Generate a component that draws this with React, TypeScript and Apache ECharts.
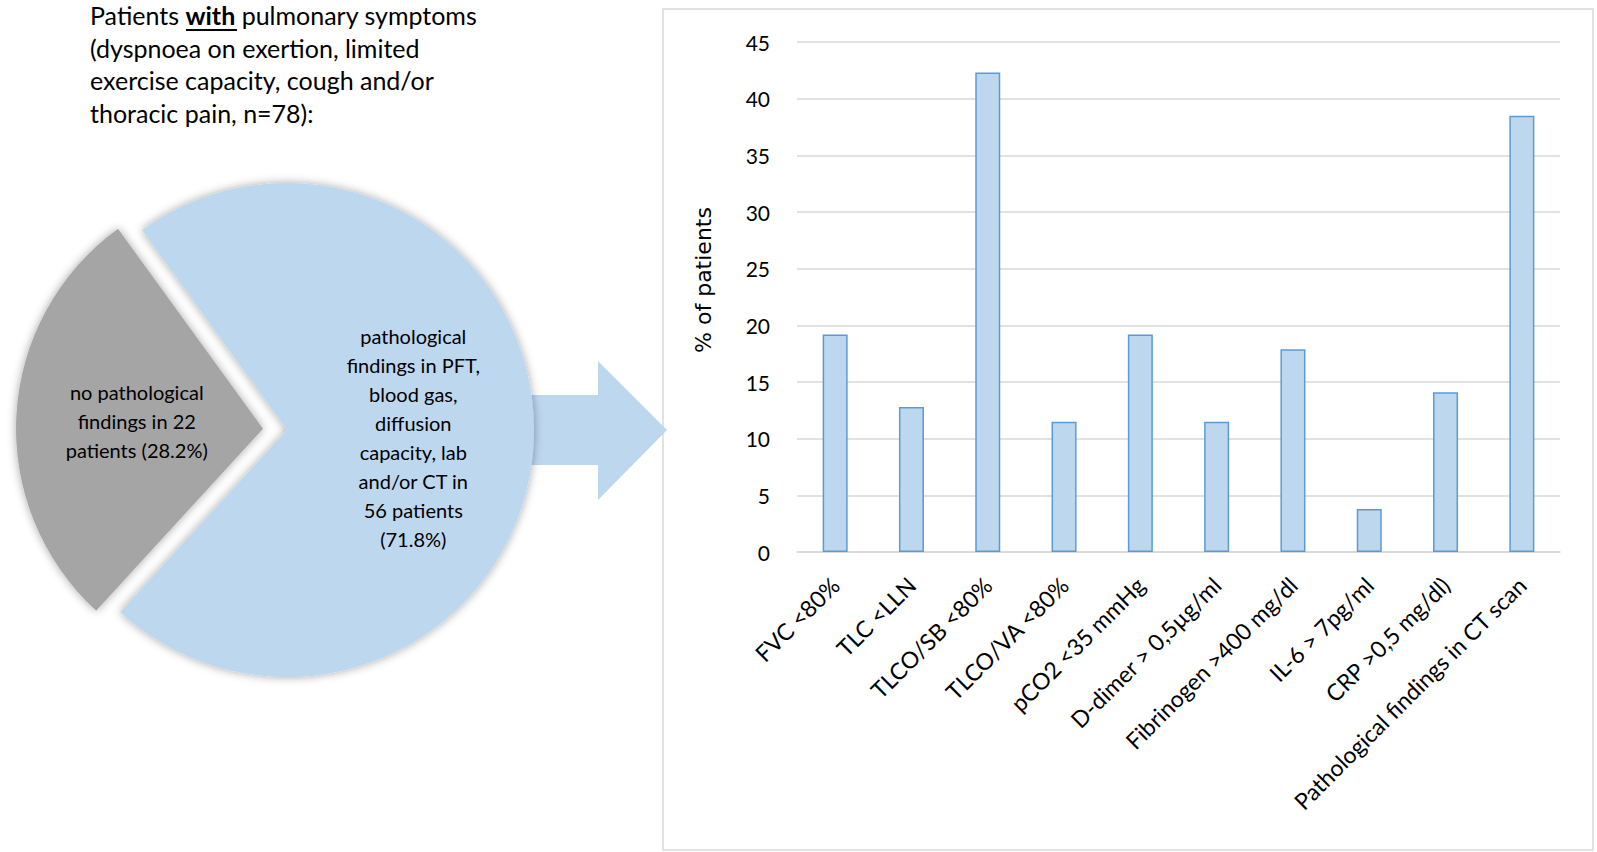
import React, { useEffect, useRef } from "react";
import * as echarts from "echarts";

const categories = [
  "FVC <80%",
  "TLC <LLN",
  "TLCO/SB <80%",
  "TLCO/VA <80%",
  "pCO2 <35 mmHg",
  "D-dimer > 0,5µg/ml",
  "Fibrinogen >400 mg/dl",
  "IL-6 > 7pg/ml",
  "CRP >0,5 mg/dl)",
  "Pathological findings in CT scan",
];
const percentValues = [19.2, 12.8, 42.3, 11.5, 19.2, 11.5, 17.9, 3.8, 14.1, 38.5];

const pieNames = ["no pathological findings", "pathological findings"];
const pieCounts = [22, 56];
const pieLabels = [
  "no pathological\nfindings in 22\npatients (28.2%)",
  "pathological\nfindings in PFT,\nblood gas,\ndiffusion\ncapacity, lab\nand/or CT in\n56 patients\n(71.8%)",
];

const yTicks = { min: 0, max: 45, interval: 5 };
const titleLines = [
  "(dyspnoea on exertion, limited",
  "exercise capacity, cough and/or",
  "thoracic pain, n=78):",
];

const FONT = "Lato, 'Open Sans', sans-serif";

export default function App() {
  const ref = useRef<HTMLDivElement>(null);

  useEffect(() => {
    document.body.style.margin = "0";
    const chart = echarts.init(ref.current!, undefined, { renderer: "svg" });

    const option: any = {
      animation: false,
      backgroundColor: "#ffffff",
      graphic: [
        {
          type: "rect",
          shape: { x: 663, y: 9, width: 930, height: 841 },
          style: { fill: "none", stroke: "#D9D9D9", lineWidth: 1.5 },
          z: 0,
        },
        {
          type: "polygon",
          shape: {
            points: [
              [480, 395],
              [598, 395],
              [598, 361],
              [667, 430],
              [598, 500],
              [598, 465],
              [480, 465],
            ],
          },
          style: { fill: "#BDD7EE" },
          z: 0,
        },
        {
          type: "text",
          x: 90,
          y: 2,
          style: {
            text: "{n|Patients }{b|with}{n| pulmonary symptoms}",
            fill: "#000",
            font: `25px ${FONT}`,
            rich: {
              n: { fontSize: 25, fontFamily: FONT, fill: "#000" },
              b: { fontSize: 25, fontFamily: FONT, fontWeight: "bold", fill: "#000" },
            },
          },
        },
        {
          type: "line",
          shape: { x1: 186, y1: 30, x2: 237, y2: 30 },
          style: { stroke: "#000", lineWidth: 2 },
        },
        ...titleLines.map((t, i) => ({
          type: "text",
          x: 90,
          y: 35 + i * 32.7,
          style: { text: t, fill: "#000", font: `25px ${FONT}` },
        })),
        {
          type: "text",
          x: 703,
          y: 280,
          rotation: Math.PI / 2,
          style: {
            text: "% of patients",
            fill: "#000",
            font: "22px 'DejaVu Sans', sans-serif",
            align: "center",
            verticalAlign: "middle",
          },
        },
      ],
      grid: { left: 797, right: 37, top: 42, bottom: 300, containLabel: false },
      xAxis: {
        type: "category",
        data: categories,
        axisLine: { show: true, lineStyle: { color: "#D9D9D9", width: 1.5 } },
        axisTick: { show: false },
        axisLabel: {
          rotate: 45,
          interval: 0,
          margin: 29,
          color: "#000",
          fontSize: 23,
          fontFamily: FONT,
        },
      },
      yAxis: {
        type: "value",
        min: yTicks.min,
        max: yTicks.max,
        interval: yTicks.interval,
        axisLine: { show: false },
        axisTick: { show: false },
        splitLine: { lineStyle: { color: "#D9D9D9", width: 1.5 } },
        axisLabel: { color: "#000", fontSize: 21, fontFamily: FONT, margin: 27 },
      },
      series: [
        {
          type: "bar",
          data: percentValues,
          barWidth: 25,
          itemStyle: { color: "#BDD7EE", borderColor: "#5B9BD5", borderWidth: 1.5 },
          z: 3,
        },
        {
          type: "pie",
          center: [287, 430],
          radius: [0, 247],
          startAngle: 227.5,
          clockwise: true,
          selectedMode: "single",
          selectedOffset: 24,
          silent: true,
          z: 5,
          emphasis: { disabled: true },
          itemStyle: { shadowBlur: 10, shadowColor: "rgba(0,0,0,0.35)" },
          label: {
            position: "inside",
            color: "#000",
            fontSize: 20,
            lineHeight: 29,
            fontFamily: FONT,
            formatter: (p: any) => pieLabels[p.dataIndex],
          },
          labelLine: { show: false },
          data: pieCounts.map((v, i) => ({
            name: pieNames[i],
            value: v,
            selected: i === 0,
            itemStyle: { color: i === 0 ? "#A5A5A5" : "#BDD7EE" },
          })),
        },
      ],
    };

    chart.setOption(option);
    return () => chart.dispose();
  }, []);

  return <div ref={ref} style={{ width: 1597, height: 852 }} />;
}
